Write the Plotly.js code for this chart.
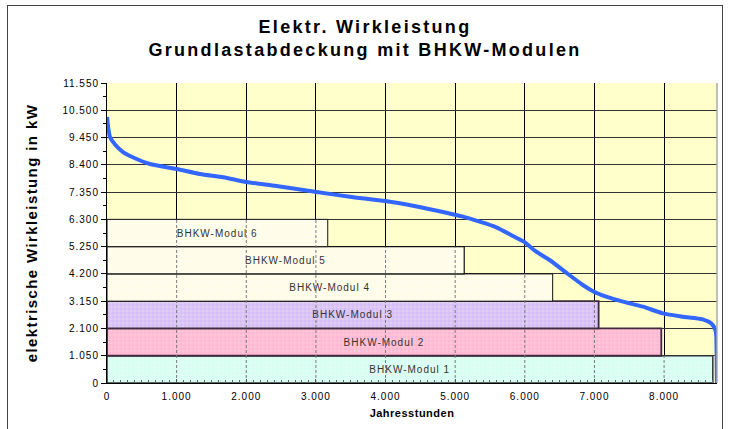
<!DOCTYPE html>
<html><head><meta charset="utf-8">
<script src="https://cdn.plot.ly/plotly-3.0.1.min.js"></script>
<style>
html,body{margin:0;padding:0;background:#fff;}
#wrap{position:relative;width:730px;height:429px;overflow:hidden;}
#chart{width:730px;height:429px;}
#frame{position:absolute;left:7px;top:5px;width:716px;height:440px;border:1.5px solid #444;pointer-events:none;box-sizing:border-box;}
#chart .xtick text, #chart .ytick text{letter-spacing:1px;}
#chart .bartext{letter-spacing:1px;}
#chart .gtitle{letter-spacing:2.3px;}
#chart .ytitle{letter-spacing:1.4px;}
#chart .xtitle{letter-spacing:0.5px;}
</style></head><body>
<div id="wrap"><div id="chart"></div><div id="frame"></div></div>
<script>
// ---- data ----
const moduleNames = ['BHKW-Modul 1','BHKW-Modul 2','BHKW-Modul 3','BHKW-Modul 4','BHKW-Modul 5','BHKW-Modul 6'];
const moduleHours = [8700, 7960, 7060, 6400, 5130, 3170];
const modulePowerKW = 1050;
const hours  = [0, 19, 43, 115, 230, 378, 617, 1000, 1334, 1670, 2000, 2434, 3010, 3486, 4000, 4395, 4873, 5112, 5351, 5590, 5829, 5987, 6165, 6356, 6595, 6834, 6992, 7169, 7408, 7695, 7982, 8268, 8555, 8675, 8737, 8750, 8756, 8758];
const loadKW = [10240, 9800, 9470, 9180, 8890, 8680, 8430, 8240, 8046, 7919, 7739, 7585, 7354, 7173, 7007, 6826, 6557, 6403, 6210, 5994, 5660, 5440, 5055, 4736, 4248, 3773, 3516, 3324, 3131, 2939, 2682, 2554, 2451, 2297, 2040, 1783, 900, 0];
const yTickVals = [0,1050,2100,3150,4200,5250,6300,7350,8400,9450,10500,11550];
const xTickVals = [0,1000,2000,3000,4000,5000,6000,7000,8000];

// ---- styles per module ----
const moduleFill  = ['#e0fff0','#ffc6d8','#e0cef2','#fffde4','#fffde6','#fffde6'];
const modulePat   = ['#c4fffa','#ffa2c8','#caa6ff','#ffffff','#ffffff','#ffffff'];
const moduleLine  = ['#333333','#402a40','#402a40','#111111','#111111','#111111'];
const moduleLineW = [1.5,1.8,1.8,1,1.2,1];

// ---- derived ----
const font = 'Liberation Sans, Arial, sans-serif';
const traces = moduleNames.map((name,i)=>({
  type:'bar', orientation:'h', name:name,
  y:[i*modulePowerKW + modulePowerKW/2], x:[moduleHours[i]], base:0, width:modulePowerKW,
  text:[name], textposition:'inside', insidetextanchor:'middle', textangle:0,
  textfont:{family:font,size:10,color:'#333'},
  marker:{color:moduleFill[i], line:{color:moduleLine[i], width:moduleLineW[i]},
    pattern:{shape:'+', size:4, solidity:0.22, fillmode:'replace',
      bgcolor:moduleFill[i], fgcolor:modulePat[i], fgopacity:1}},
  hoverinfo:'skip', showlegend:false
}));

const gx = [], gy = [];
xTickVals.slice(1).forEach(xv=>{
  let top = 0;
  moduleHours.forEach((h,i)=>{ if (h > xv) top = Math.max(top,(i+1)*modulePowerKW); });
  if (top>0){ gx.push(xv,xv,null); gy.push(0,top,null); }
});
traces.push({
  type:'scatter', mode:'lines', x:gx, y:gy,
  line:{color:'#7a7a7a', width:1, dash:'3px,2px'},
  hoverinfo:'skip', showlegend:false
});
traces.push({
  type:'scatter', mode:'lines', x:hours, y:loadKW, name:'Wirkleistung',
  line:{color:'#3366ff', width:4, shape:'spline', smoothing:0.6},
  hoverinfo:'skip', showlegend:false, cliponaxis:false
});

const layout = {
  width:730, height:429,
  margin:{l:107, r:13, t:83, b:46},
  paper_bgcolor:'#ffffff', plot_bgcolor:'#ffffcc',
  separators:',.', barmode:'overlay',
  font:{family:font, color:'#000', size:10},
  title:{text:'Elektr. Wirkleistung<br>Grundlastabdeckung mit BHKW-Modulen',
    font:{family:font, size:18, color:'#000', weight:'bold'},
    x:0.5, xref:'container', xanchor:'center', y:1-33/429, yref:'container', yanchor:'middle'},
  xaxis:{range:[0,8760], tickmode:'array', tickvals:xTickVals, tickformat:',d',
    showgrid:true, gridcolor:'#000', gridwidth:1, zeroline:false,
    showline:true, linecolor:'#000', linewidth:1,
    ticks:'inside', ticklen:4, tickcolor:'#555', ticklabelstandoff:4,
    minor:{dtick:100, tick0:0, ticks:'inside', ticklen:3, tickcolor:'#666', showgrid:false},
    tickfont:{family:font,size:10,color:'#000'},
    title:{text:'Jahresstunden', font:{family:font,size:11,color:'#000',weight:'bold'}, standoff:8}},
  yaxis:{range:[0,11550], tickmode:'array', tickvals:yTickVals, tickformat:',d',
    showgrid:true, gridcolor:'#333', gridwidth:1, zeroline:false,
    showline:true, linecolor:'#000', linewidth:1,
    ticks:'outside', ticklen:5, tickcolor:'#000',
    minor:{dtick:525, tick0:0, ticks:'outside', ticklen:3, tickcolor:'#000', showgrid:false},
    tickfont:{family:font,size:10,color:'#000'},
    title:{text:'elektrische Wirkleistung in kW', font:{family:font,size:15,color:'#000',weight:'bold'}, standoff:27}},
  shapes:[{type:'line', xref:'paper', yref:'paper', x0:1, x1:1, y0:0, y1:1, line:{color:'#aaa', width:1.5}}]
};

Plotly.newPlot('chart',traces,layout,{staticPlot:true, displayModeBar:false});
</script>
</body></html>
